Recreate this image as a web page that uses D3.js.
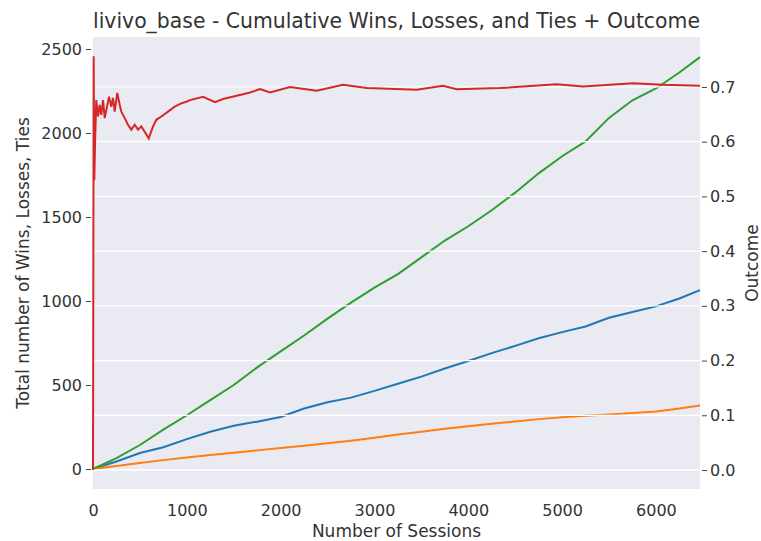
<!DOCTYPE html>
<html>
<meta charset="utf-8">
<head>
    <title>livivo_base - Cumulative Wins, Losses, and Ties + Outcome</title>
    <script src="https://d3js.org/d3.v7.min.js"></script>
    <style>
    body { margin: 0; background: #fff; }
    text { font-family: "DejaVu Sans", sans-serif; fill: #333; }
    </style>
</head>
<body>
<script>

var sessions = [0, 250, 500, 750, 1000, 1250, 1500, 1750, 2000, 2250, 2500, 2750, 3000, 3250,
                3500, 3750, 4000, 4250, 4500, 4750, 5000, 5250, 5500, 5750, 6000, 6250, 6470];
var wins   = [0, 65, 143, 235, 320, 410, 500, 605, 700, 795, 895, 990, 1080, 1160,
              1260, 1360, 1445, 1540, 1645, 1760, 1862, 1950, 2090, 2195, 2265, 2360, 2452];
var losses = [0, 45, 95, 130, 178, 222, 258, 282, 310, 360, 398, 425, 465, 508,
              550, 598, 643, 690, 733, 778, 815, 848, 900, 935, 968, 1015, 1065];
var ties   = [0, 18, 36, 53, 69, 83, 97, 111, 125, 139, 153, 168, 186, 205,
              222, 240, 255, 269, 283, 297, 308, 317, 325, 333, 343, 360, 378];

// Outcome (right axis)
var outcomeSessions = [0, 7, 14, 22, 35, 53, 71, 88, 107, 125, 149, 171, 195, 213, 231, 259,
                       285, 302, 338, 373, 408, 445, 480, 515, 551, 594, 640, 675, 728, 800,
                       871, 941, 995, 1034, 1173, 1301, 1386, 1532, 1674, 1780, 1887, 2100,
                       2385, 2665, 2918, 3451, 3731, 3877, 4339, 4943, 5224, 5757, 6077, 6471];
var outcome = [0, 0.756, 0.53, 0.60, 0.676, 0.646, 0.667, 0.649, 0.676, 0.643, 0.664, 0.682,
               0.664, 0.680, 0.655, 0.689, 0.667, 0.655, 0.643, 0.631, 0.622, 0.631, 0.622,
               0.628, 0.618, 0.606, 0.628, 0.640, 0.646, 0.655, 0.664, 0.670, 0.673, 0.676,
               0.682, 0.672, 0.678, 0.684, 0.690, 0.696, 0.690, 0.700, 0.693, 0.704, 0.698,
               0.695, 0.702, 0.696, 0.698, 0.705, 0.701, 0.707, 0.704, 0.702];

var leftTicks = [0, 500, 1000, 1500, 2000, 2500];
var rightTicks = [0, 0.1, 0.2, 0.3, 0.4, 0.5, 0.6, 0.7];
var xTicks = [0, 1000, 2000, 3000, 4000, 5000, 6000];

var width = 761, height = 541;
var plotLeft = 93, plotRight = 700, plotTop = 37, plotBottom = 489;

var svg = d3.select("body").append("svg")
    .attr("width", width)
    .attr("height", height);

var x = d3.scaleLinear().domain([0, 6470]).range([plotLeft, plotRight]);
var yL = d3.scaleLinear().domain([-118.9, 2571.6]).range([plotBottom, plotTop]);
var yR = d3.scaleLinear().domain([-0.0347, 0.7913]).range([plotBottom, plotTop]);

// Plot background
svg.append("rect")
    .attr("x", plotLeft).attr("y", plotTop)
    .attr("width", plotRight - plotLeft).attr("height", plotBottom - plotTop)
    .attr("fill", "#eaeaf2");

// Cumulative lines (left axis)
var series = [
    {values: losses, color: "#1f77b4"},
    {values: ties, color: "#ff7f0e"},
    {values: wins, color: "#2ca02c"}
];
series.forEach(function(s) {
    var line = d3.line()
        .x(function(d, i) { return x(sessions[i]); })
        .y(function(d) { return yL(d); });
    svg.append("path")
        .datum(s.values)
        .attr("fill", "none")
        .attr("stroke", s.color)
        .attr("stroke-width", 2)
        .attr("d", line);
});

// Grid lines belong to the twin axis, so they sit over the left-axis lines
svg.append("g").selectAll("line")
    .data(rightTicks)
    .enter().append("line")
    .attr("x1", plotLeft).attr("x2", plotRight)
    .attr("y1", function(d) { return yR(d); })
    .attr("y2", function(d) { return yR(d); })
    .attr("stroke", "#fff")
    .attr("stroke-width", 1.3);

// Outcome line
var outLine = d3.line()
    .x(function(d, i) { return x(outcomeSessions[i]); })
    .y(function(d) { return yR(d); });
svg.append("path")
    .datum(outcome)
    .attr("fill", "none")
    .attr("stroke", "#d62728")
    .attr("stroke-width", 2)
    .attr("d", outLine);

// Axes
var gL = svg.append("g")
    .attr("transform", "translate(" + (plotLeft - 2) + ",0)")
    .call(d3.axisLeft(yL).tickValues(leftTicks).tickSize(5).tickPadding(4)
        .tickFormat(d3.format("d")));
var gR = svg.append("g")
    .attr("transform", "translate(" + (plotRight + 2) + ",0)")
    .call(d3.axisRight(yR).tickValues(rightTicks).tickSize(5).tickPadding(3)
        .tickFormat(d3.format(".1f")));
var gX = svg.append("g")
    .attr("transform", "translate(0," + plotBottom + ")")
    .call(d3.axisBottom(x).tickValues(xTicks).tickSize(0).tickPadding(16)
        .tickFormat(d3.format("d")));

[gL, gR, gX].forEach(function(g) {
    g.select(".domain").remove();
    g.selectAll(".tick line").attr("stroke", "#444");
    g.selectAll("text")
        .style("font-family", "DejaVu Sans")
        .style("font-size", "16px")
        .attr("fill", "#333");
});

// Labels
svg.append("text")
    .attr("x", (plotLeft + plotRight) / 2).attr("y", 28)
    .attr("text-anchor", "middle")
    .style("font-size", "20.4px")
    .text("livivo_base - Cumulative Wins, Losses, and Ties + Outcome");

svg.append("text")
    .attr("x", (plotLeft + plotRight) / 2).attr("y", 537)
    .attr("text-anchor", "middle")
    .style("font-size", "17px")
    .text("Number of Sessions");

svg.append("text")
    .attr("transform", "translate(29," + (plotTop + plotBottom) / 2 + ") rotate(-90)")
    .attr("text-anchor", "middle")
    .style("font-size", "17px")
    .text("Total number of Wins, Losses, Ties");

svg.append("text")
    .attr("transform", "translate(758," + (plotTop + plotBottom) / 2 + ") rotate(-90)")
    .attr("text-anchor", "middle")
    .style("font-size", "17px")
    .text("Outcome");

</script>
</body>
</html>
